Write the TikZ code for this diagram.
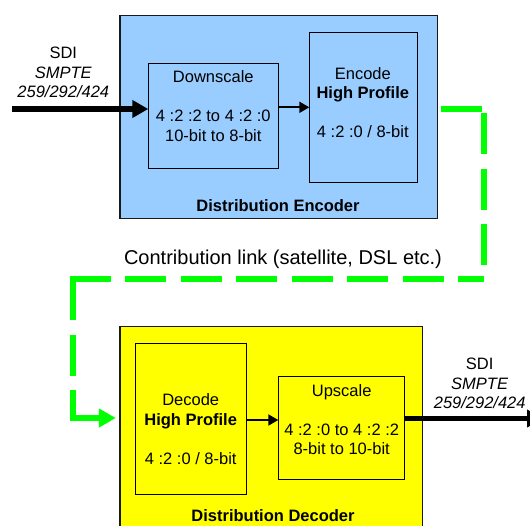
\documentclass[tikz,border=0pt]{standalone}
\usepackage{fontspec}
\setmainfont{Liberation Sans}
\usetikzlibrary{arrows.meta,calc}
\definecolor{encblue}{HTML}{99CCFF}
\definecolor{decyellow}{HTML}{FFFF00}
\definecolor{linkgreen}{HTML}{00FF00}
\begin{document}
\begin{tikzpicture}[x=1pt,y=-1pt,
  txt/.style={font=\fontsize{16.5}{19.5}\selectfont, align=center, inner sep=0pt},
  boldtxt/.style={font=\fontsize{16.5}{19.5}\selectfont\bfseries, inner sep=0pt},
  outerbox/.style={draw=black!90, line width=1.3pt, inner sep=0pt, anchor=north west},
  innerbox/.style={draw=black, line width=1pt, inner sep=0pt, anchor=north west},
  thickarrow/.style={line width=5.7pt, -{Triangle[length=16pt,width=17pt]}},
  thinarrow/.style={line width=2pt, -{Triangle[length=10pt,width=11pt]}},
  link/.style={draw=linkgreen, line width=6pt, dash pattern=on 41pt off 14.5pt},
]
\useasboundingbox (0,0) rectangle (530,525);
\clip (0,0) rectangle (530,525);

% ---------- Distribution Encoder ----------
\node[outerbox, fill=encblue, minimum width=317.4pt, minimum height=202.7pt] (encoder) at (119.3,15) {};
\node[innerbox, minimum width=130pt, minimum height=105pt] (down) at (148.3,63.3) {};
\node[innerbox, minimum width=107.4pt, minimum height=150.6pt] (encode) at (309.3,31.7) {};
\node[txt] (downtxt) at (213.3,106) {Downscale\\[19.5pt]4 :2 :2 to 4 :2 :0\\10-bit to 8-bit};
\node[txt] (encodetxt) at (362.8,102.5) {Encode\\\textbf{High Profile}\\[19.5pt]4 :2 :0 / 8-bit};
\node[boldtxt] (enclabel) at (278,206) {Distribution Encoder};

\node[txt] (sdiin) at (63.3,72.5) {SDI\\\textit{SMPTE}\\\textit{259/292/424}};
\coordinate (srcin) at (12,109);
\draw[thickarrow] (srcin) -- (down.west |- srcin);
\draw[thinarrow] (down.east |- 0,107.3) -- (encode.west |- 0,107.3);

% ---------- Contribution link ----------
\node[font=\fontsize{20}{24}\selectfont, inner sep=0pt] (linktxt) at (283,259) {Contribution link (satellite, DSL etc.)};

% ---------- Distribution Decoder ----------
\node[outerbox, fill=decyellow, minimum width=302.4pt, minimum height=220pt] (decoder) at (119.3,325.7) {};
\node[innerbox, minimum width=111pt, minimum height=151pt] (decode) at (135,343.3) {};
\node[innerbox, minimum width=125.7pt, minimum height=103.6pt] (up) at (278.3,375.7) {};
\node[txt] (decodetxt) at (190.7,429) {Decode\\\textbf{High Profile}\\[19.5pt]4 :2 :0 / 8-bit};
\node[txt] (uptxt) at (341.7,419.5) {Upscale\\[19.5pt]4 :2 :0 to 4 :2 :2\\8-bit to 10-bit};
\node[boldtxt] (declabel) at (273,516) {Distribution Decoder};
\draw[thinarrow] (decode.east |- 0,420) -- (up.west |- 0,420);

\node[txt] (sdiout) at (479.7,383.5) {SDI\\\textit{SMPTE}\\\textit{259/292/424}};
\coordinate (sinkout) at (543,418.5);
\draw[thickarrow] (up.east |- sinkout) -- (sinkout);

% ---------- green dashed link ----------
\coordinate (g0) at (441,109);
\coordinate (g1) at (484,109);
\coordinate (g2) at (484,279);
\coordinate (g3) at (72.5,279);
\coordinate (g4) at (72.5,418);
\coordinate (g5) at ($(decoder.west |- g4)+(-3.5,0)$);
\draw[link] (g0) -- (g1);
\draw[link, dash phase=51.5pt] (g1) -- (g2);
\draw[link] ($(g3)+(-3,0)$) -- (g2);
\draw[link] (g3) -- (g4);
\draw[link, -{Triangle[length=17pt,width=18pt,fill=linkgreen]}] ($(g4)+(-3,0)$) -- (g5);
\end{tikzpicture}
\end{document}
